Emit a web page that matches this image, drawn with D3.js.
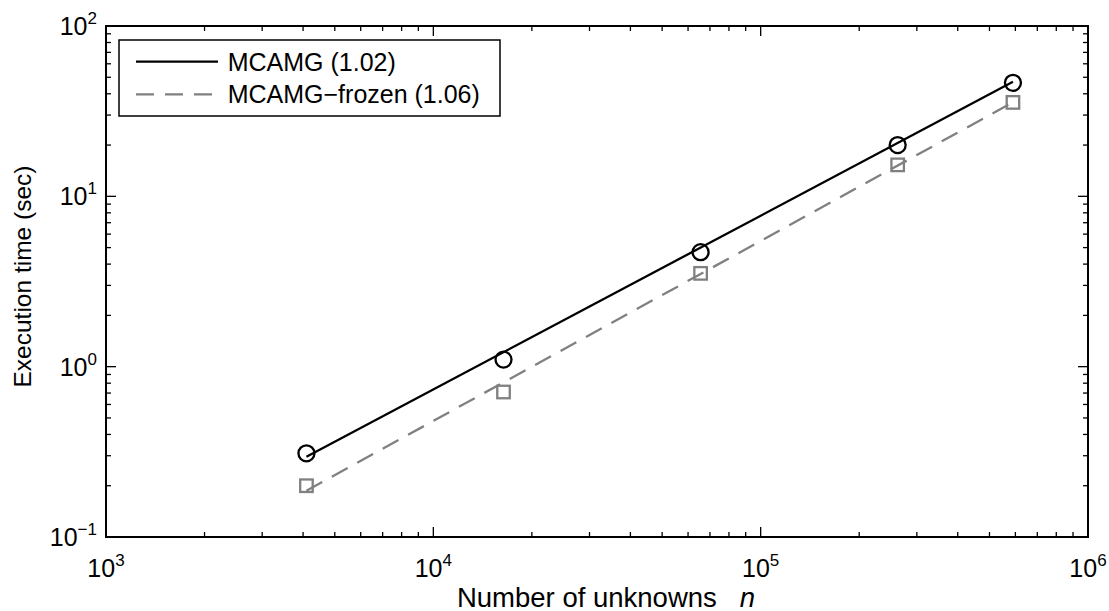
<!DOCTYPE html>
<html>
<head>
    <meta charset="utf-8">
    <title>MCAMG timing</title>
    <script src="https://cdn.jsdelivr.net/npm/d3@7"></script>
    <style>
        body { margin: 0; background: #ffffff; }
        text { font-family: "Liberation Sans", Arial, Helvetica, sans-serif; fill: #000; }
    </style>
</head>
<body>
    <svg width="1109" height="611" id="mainsvg"></svg>
    <script>
        // measured points (n, seconds)
        const unknowns = [4096, 16384, 65536, 262144, 589824];
        const timeMcamg = [0.31, 1.1, 4.7, 20.0, 46.4];
        const timeFrozen = [0.2, 0.71, 3.53, 15.3, 35.6];

        // fitted power-law lines, endpoints
        const fitN = [4096, 589824];
        const fitMcamg = [0.296, 47.0];
        const fitFrozen = [0.187, 35.7];

        const seriesNames = ['MCAMG (1.02)', 'MCAMG\u2212frozen (1.06)'];
        const xTicks = [1e3, 1e4, 1e5, 1e6];
        const yTicks = [1e-1, 1e0, 1e1, 1e2];

        const svg = d3.select('#mainsvg');
        const margin = { top: 26, right: 21, bottom: 74, left: 106 };
        const innerWidth = 1109 - margin.left - margin.right;
        const innerHeight = 611 - margin.top - margin.bottom;

        const xScale = d3.scaleLog().domain([1e3, 1e6]).range([0, innerWidth]);
        const yScale = d3.scaleLog().domain([1e-1, 1e2]).range([innerHeight, 0]);

        const g = svg.append('g')
            .attr('transform', `translate(${margin.left}, ${margin.top})`);

        // minor ticks for log axes
        const minorX = [], minorY = [];
        for (let e = 3; e < 6; e++) for (let k = 2; k < 10; k++) minorX.push(k * Math.pow(10, e));
        for (let e = -1; e < 2; e++) for (let k = 2; k < 10; k++) minorY.push(k * Math.pow(10, e));

        const tickG = g.append('g').attr('stroke', '#000').attr('stroke-width', 1.3);
        const drawTicksX = (vals, len) => {
            vals.forEach(v => {
                const x = xScale(v);
                tickG.append('line').attr('x1', x).attr('x2', x).attr('y1', innerHeight).attr('y2', innerHeight - len);
                tickG.append('line').attr('x1', x).attr('x2', x).attr('y1', 0).attr('y2', len);
            });
        };
        const drawTicksY = (vals, len) => {
            vals.forEach(v => {
                const y = yScale(v);
                tickG.append('line').attr('y1', y).attr('y2', y).attr('x1', 0).attr('x2', len);
                tickG.append('line').attr('y1', y).attr('y2', y).attr('x1', innerWidth).attr('x2', innerWidth - len);
            });
        };
        drawTicksX(minorX, 5);
        drawTicksX(xTicks, 10);
        drawTicksY(minorY, 5);
        drawTicksY(yTicks, 10);

        // axis box
        g.append('rect')
            .attr('width', innerWidth)
            .attr('height', innerHeight)
            .attr('fill', 'none')
            .attr('stroke', '#000')
            .attr('stroke-width', 2);

        // tick labels 10^k
        const expo = v => Math.round(Math.log10(v));
        const fmtExp = e => (e < 0 ? '\u2212' + (-e) : '' + e);

        const xl = g.append('g').selectAll('text').data(xTicks).join('text')
            .attr('x', d => xScale(d))
            .attr('y', innerHeight + 40)
            .attr('text-anchor', 'middle')
            .attr('font-size', 25);
        xl.append('tspan').text('10');
        xl.append('tspan').attr('dy', -11).attr('font-size', 17).text(d => fmtExp(expo(d)));

        const yl = g.append('g').selectAll('text').data(yTicks).join('text')
            .attr('x', -9)
            .attr('y', d => yScale(d) + 9)
            .attr('text-anchor', 'end')
            .attr('font-size', 25);
        yl.append('tspan').text('10');
        yl.append('tspan').attr('dy', -11).attr('font-size', 17).text(d => fmtExp(expo(d)));

        // axis titles
        const xt = g.append('text')
            .attr('x', innerWidth / 2 + 9)
            .attr('y', innerHeight + 70)
            .attr('text-anchor', 'middle')
            .attr('font-size', 27.5)
            .attr('xml:space', 'preserve');
        xt.append('tspan').text('Number of unknowns   ');
        xt.append('tspan').attr('font-style', 'italic').text('n');

        g.append('text')
            .attr('transform', `translate(${-75}, ${innerHeight / 2 - 5}) rotate(-90)`)
            .attr('text-anchor', 'middle')
            .attr('font-size', 24.5)
            .text('Execution time (sec)');

        // fitted lines
        const line = d3.line().x(d => xScale(d[0])).y(d => yScale(d[1]));
        g.append('path')
            .datum(fitN.map((n, i) => [n, fitMcamg[i]]))
            .attr('d', line)
            .attr('fill', 'none')
            .attr('stroke', '#000')
            .attr('stroke-width', 2.3);
        g.append('path')
            .datum(fitN.map((n, i) => [n, fitFrozen[i]]))
            .attr('d', line)
            .attr('fill', 'none')
            .attr('stroke', '#808080')
            .attr('stroke-width', 2.3)
            .attr('stroke-dasharray', '18,11');

        // markers
        g.append('g').selectAll('circle').data(unknowns).join('circle')
            .attr('cx', d => xScale(d))
            .attr('cy', (d, i) => yScale(timeMcamg[i]))
            .attr('r', 8)
            .attr('fill', 'none')
            .attr('stroke', '#000')
            .attr('stroke-width', 2.3);
        const sq = 12.5;
        g.append('g').selectAll('rect').data(unknowns).join('rect')
            .attr('x', d => xScale(d) - sq / 2)
            .attr('y', (d, i) => yScale(timeFrozen[i]) - sq / 2)
            .attr('width', sq)
            .attr('height', sq)
            .attr('fill', 'none')
            .attr('stroke', '#808080')
            .attr('stroke-width', 2.3);

        // legend
        const leg = svg.append('g').attr('transform', 'translate(119, 40)');
        leg.append('rect')
            .attr('width', 381)
            .attr('height', 76)
            .attr('fill', '#fff')
            .attr('stroke', '#000')
            .attr('stroke-width', 1.5);
        const legStyles = [
            { stroke: '#000', dash: null },
            { stroke: '#808080', dash: '18,11' }
        ];
        seriesNames.forEach((name, i) => {
            const y = 21.7 + i * 32.6;
            leg.append('line')
                .attr('x1', 17).attr('x2', 99)
                .attr('y1', y).attr('y2', y)
                .attr('stroke', legStyles[i].stroke)
                .attr('stroke-width', 2.3)
                .attr('stroke-dasharray', legStyles[i].dash);
            leg.append('text')
                .attr('x', 108.7)
                .attr('y', y)
                .attr('dy', '0.36em')
                .attr('font-size', 25)
                .text(name);
        });
    </script>
</body>
</html>
